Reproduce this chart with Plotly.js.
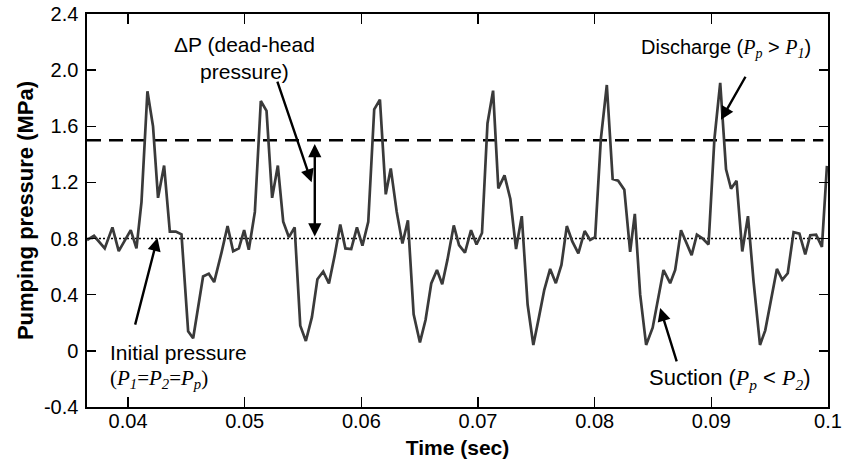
<!DOCTYPE html>
<html><head><meta charset="utf-8">
<script src="https://cdn.plot.ly/plotly-3.0.1.min.js"></script>
<style>body{margin:0;background:#fff}#chart{width:845px;height:470px}</style>
</head><body><div id="chart"></div>
<script>
// Time (s) and pumping pressure (MPa)
const timeSec = [0.03648,0.03708,0.03800,0.03866,0.03920,0.04023,0.04072,0.04115,0.04166,0.04214,
0.04257,0.04309,0.04358,0.04409,0.04458,0.04515,0.04558,0.04643,0.04692,0.04738,
0.04801,0.04853,0.04901,0.04950,0.04995,0.05035,0.05087,0.05138,0.05187,0.05235,
0.05284,0.05330,0.05379,0.05428,0.05476,0.05524,0.05576,0.05623,0.05673,0.05722,
0.05771,0.05819,0.05863,0.05913,0.05962,0.06009,0.06059,0.06110,0.06159,0.06209,
0.06252,0.06303,0.06352,0.06399,0.06448,0.06502,0.06550,0.06599,0.06648,0.06693,
0.06738,0.06792,0.06837,0.06888,0.06940,0.06987,0.07034,0.07081,0.07129,0.07174,
0.07227,0.07277,0.07326,0.07375,0.07425,0.07474,0.07521,0.07568,0.07618,0.07667,
0.07715,0.07761,0.07808,0.07860,0.07914,0.07961,0.08004,0.08053,0.08104,0.08154,
0.08201,0.08254,0.08304,0.08344,0.08390,0.08441,0.08497,0.08547,0.08590,0.08647,
0.08690,0.08740,0.08787,0.08831,0.08876,0.08926,0.08976,0.09026,0.09076,0.09126,
0.09169,0.09216,0.09265,0.09314,0.09362,0.09417,0.09462,0.09511,0.09562,0.09608,
0.09655,0.09705,0.09755,0.09805,0.09848,0.09898,0.09948,0.09991];
const pressureMPa = [0.79,0.82,0.73,0.88,0.71,0.86,0.73,1.06,1.85,1.60,
1.09,1.32,0.85,0.85,0.83,0.14,0.09,0.53,0.55,0.49,
0.70,0.89,0.71,0.73,0.86,0.72,0.99,1.78,1.71,1.09,
1.32,0.92,0.81,0.88,0.18,0.07,0.24,0.51,0.565,0.48,
0.68,0.90,0.73,0.725,0.88,0.75,0.92,1.72,1.79,1.115,
1.30,0.99,0.765,0.93,0.26,0.06,0.22,0.48,0.576,0.475,
0.65,0.894,0.753,0.70,0.86,0.758,0.84,1.62,1.854,1.158,
1.25,1.082,0.725,0.96,0.33,0.042,0.235,0.435,0.584,0.482,
0.612,0.889,0.78,0.694,0.854,0.79,0.81,1.511,1.894,1.224,
1.212,1.148,0.706,0.976,0.40,0.042,0.165,0.38,0.576,0.482,
0.576,0.859,0.77,0.682,0.828,0.80,0.758,1.506,1.91,1.294,
1.155,1.212,0.708,0.96,0.494,0.042,0.146,0.353,0.584,0.506,
0.553,0.845,0.835,0.687,0.824,0.828,0.741,1.318];
const deadHeadPressure = [1.5, 1.5];
const initialPressure = [0.8, 0.8];
const refLineTime = [0.03648, 0.0996];
const xRange = [0.03648, 0.1];
const yRange = [-0.4, 2.4];
const xTickVals = [0.04, 0.05, 0.06, 0.07, 0.08, 0.09, 0.1];
const xTickText = ['0.04', '0.05', '0.06', '0.07', '0.08', '0.09', '0.1'];
const yTickVals = [-0.4, 0, 0.4, 0.8, 1.2, 1.6, 2.0, 2.4];
const yTickText = ['-0.4', '0', '0.4', '0.8', '1.2', '1.6', '2.0', '2.4'];

const sans = 'Liberation Sans, Arial, sans-serif';
const serifI = "font-family:'Liberation Serif',serif;font-style:italic";
const P = (s) => `<span style="${serifI}">P<sub>${s}</sub></span>`;

const traces = [
  {x: refLineTime, y: deadHeadPressure, mode: 'lines', line: {color: '#000', width: 2.6, dash: '14px,8px'}},
  {x: refLineTime, y: initialPressure, mode: 'lines', line: {color: '#000', width: 1.6, dash: '2px,2px'}},
  {x: timeSec, y: pressureMPa, mode: 'lines', line: {color: '#3a3a3a', width: 2.7}}
];

const arrow = {showarrow: true, arrowhead: 2, arrowsize: 1.1, arrowwidth: 2.4, arrowcolor: '#000', axref: 'x', ayref: 'y', xref: 'x', yref: 'y', text: ''};
const annoFont = {family: sans, size: 21, color: '#000'};
const annotations = [
  {xref: 'x', yref: 'y', x: 0.04994, y: 2.085, text: 'ΔP (dead-head<br>pressure)', showarrow: false, font: {family: sans, size: 21, color: '#000'}, align: 'center'},
  Object.assign({}, arrow, {x: 0.055733, y: 1.2007, ax: 0.052756, ay: 1.9286}),
  Object.assign({}, arrow, {x: 0.056006, y: 0.815, ax: 0.056006, ay: 1.485, arrowside: 'end+start'}),
  {xref: 'x', yref: 'y', x: 0.0987, y: 2.155, xanchor: 'right', text: 'Discharge (' + P('p') + ' &gt; ' + P('1') + ')', showarrow: false, font: {family: sans, size: 20, color: '#000'}},
  Object.assign({}, arrow, {x: 0.090825, y: 1.6459, ax: 0.0930, ay: 1.9636}),
  {xref: 'x', yref: 'y', x: 0.038267, y: -0.015, xanchor: 'left', text: 'Initial pressure', showarrow: false, font: annoFont},
  {xref: 'x', yref: 'y', x: 0.038267, y: -0.199, xanchor: 'left', text: '(' + P('1') + '=' + P('2') + '=' + P('p') + ')', showarrow: false, font: {family: "'Liberation Serif', serif", size: 21, color: '#000'}},
  Object.assign({}, arrow, {x: 0.042522, y: 0.8049, ax: 0.040575, ay: 0.176}),
  {xref: 'x', yref: 'y', x: 0.0987, y: -0.199, xanchor: 'right', text: 'Suction (' + P('p') + ' &lt; ' + P('2') + ')', showarrow: false, font: {family: sans, size: 22, color: '#000'}},
  Object.assign({}, arrow, {x: 0.085612, y: 0.3053, ax: 0.08707, ay: -0.0855})
];

const axisCommon = {showgrid: false, zeroline: false, showline: true, linecolor: '#000', linewidth: 1.6, mirror: 'ticks', ticks: 'inside', tickcolor: '#000', tickwidth: 1.4, tickfont: {family: sans, size: 20, color: '#000'}};

const layout = {
  width: 845, height: 470,
  margin: {l: 87, r: 17, t: 14, b: 63},
  paper_bgcolor: '#fff', plot_bgcolor: '#fff',
  showlegend: false,
  xaxis: Object.assign({}, axisCommon, {range: xRange, tickvals: xTickVals, ticktext: xTickText, ticklen: 10, ticklabelstandoff: -5,
    title: {text: 'Time (sec)', font: {family: sans, size: 21, color: '#000', weight: 'bold'}, standoff: 10}}),
  yaxis: Object.assign({}, axisCommon, {range: yRange, tickvals: yTickVals, ticktext: yTickText, ticklen: 9, ticklabelstandoff: 3,
    title: {text: 'Pumping pressure (MPa)', font: {family: sans, size: 22, color: '#000', weight: 'bold'}, standoff: 4}}),
  annotations: annotations
};

Plotly.newPlot('chart', traces, layout, {staticPlot: true, displayModeBar: false});
</script>
</body></html>
